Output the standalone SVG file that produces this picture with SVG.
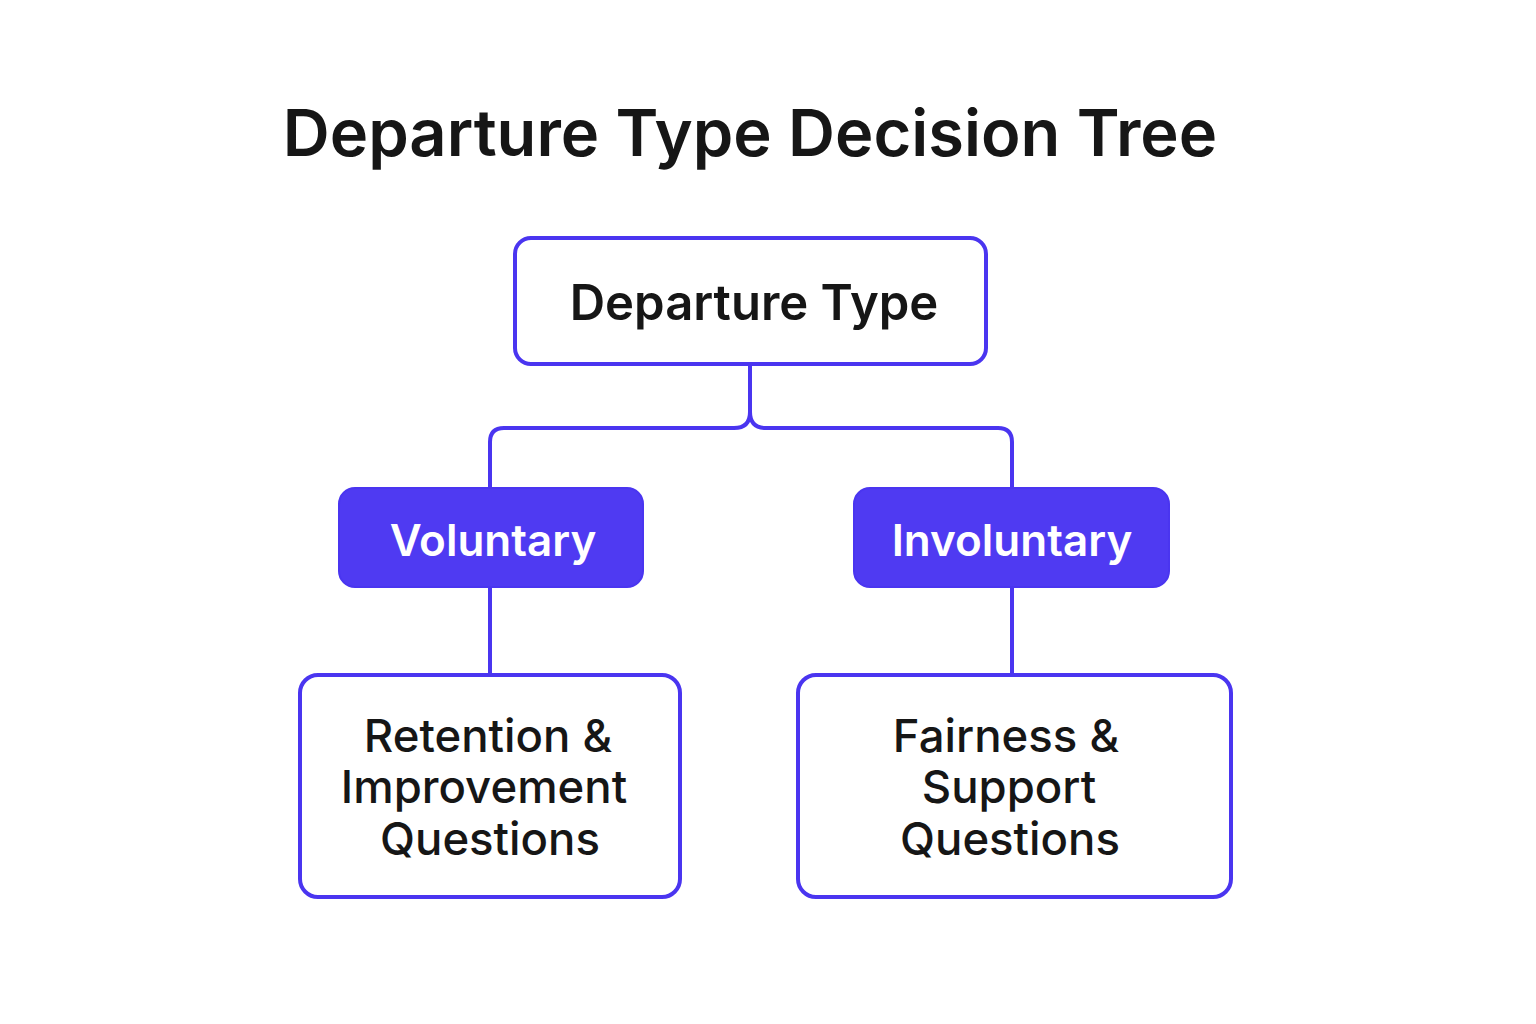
<svg xmlns="http://www.w3.org/2000/svg" width="1536" height="1024" viewBox="0 0 1536 1024">
<style>
.box{fill:#ffffff;stroke:#4A35F0;stroke-width:4}
.fbox{fill:#4F3AF2;stroke:#4A35F0;stroke-width:2}
.conn{fill:none;stroke:#4A35F0;stroke-width:4}
.t{font-family:Inter,"Liberation Sans",sans-serif;fill:#161616;text-anchor:middle}
.w{font-family:Inter,"Liberation Sans",sans-serif;fill:#ffffff;text-anchor:middle;font-weight:600}
</style>
<rect width="1536" height="1024" fill="#ffffff"/>
<text class="t" x="750" y="156" font-size="65" font-weight="600">Departure Type Decision Tree</text>
<g id="connectors">
<path class="conn" d="M750 364 V412 Q750 428 734 428 H504 Q490 428 490 442 V488"/>
<path class="conn" d="M750 364 V412 Q750 428 766 428 H998 Q1012 428 1012 442 V488"/>
<path class="conn" d="M490 587 V674"/>
<path class="conn" d="M1012 587 V674"/>
</g>
<g id="departure-type">
<rect class="box" x="515" y="238" width="471" height="126" rx="16"/>
<text class="t" x="754" y="320" font-size="49" font-weight="600">Departure Type</text>
</g>
<g id="voluntary">
<rect class="fbox" x="339" y="488" width="304" height="99" rx="16"/>
<text class="w" x="493" y="556" font-size="44">Voluntary</text>
</g>
<g id="involuntary">
<rect class="fbox" x="854" y="488" width="315" height="99" rx="16"/>
<text class="w" x="1012" y="556" font-size="44">Involuntary</text>
</g>
<g id="retention">
<rect class="box" x="300" y="675" width="380" height="222" rx="18"/>
<text class="t" font-size="45.5" font-weight="500"><tspan x="488" y="752">Retention &amp;</tspan><tspan x="484" y="803">Improvement</tspan><tspan x="490" y="855">Questions</tspan></text>
</g>
<g id="fairness">
<rect class="box" x="798" y="675" width="433" height="222" rx="18"/>
<text class="t" font-size="45.5" font-weight="500"><tspan x="1006" y="752">Fairness &amp;</tspan><tspan x="1009" y="803">Support</tspan><tspan x="1010" y="855">Questions</tspan></text>
</g>
</svg>
